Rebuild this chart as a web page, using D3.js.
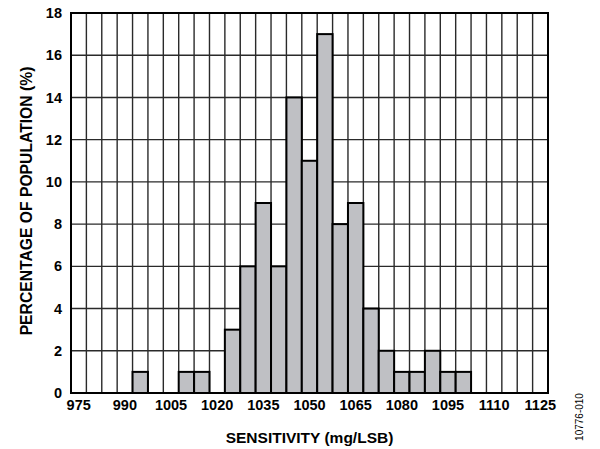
<!DOCTYPE html>
<html><head><meta charset="utf-8">
<script src="https://cdn.jsdelivr.net/npm/d3@7"></script>
<style>body{margin:0;background:#fff}svg{display:block}text{font-family:"Liberation Sans",Arial,sans-serif}</style>
</head><body>
<script>
const bins = d3.range(975, 1126, 5);
const binValues = [975,980,985,990,995,1000,1005,1010,1015,1020,1025,1030,1035,1040,1045,1050,1055,1060,1065,1070,1075,1080,1085,1090,1095,1100];
const percents = [0,0,0,0,1,0,0,1,1,0,3,6,9,6,14,11,17,8,9,4,2,1,1,2,1,1];
const xTickLabels = [975,990,1005,1020,1035,1050,1065,1080,1095,1110,1125];
const yTicks = [0,2,4,6,8,10,12,14,16,18];

const W = 600, H = 449;
const m = {l:71, r:52, t:13, b:56};
const FF = '"Liberation Sans",Arial,sans-serif';
const svg = d3.select("body").append("svg").attr("width", W).attr("height", H);
const x = d3.scaleBand().domain(bins).range([m.l, W - m.r]).padding(0);
const y = d3.scaleLinear().domain([0, 18]).range([H - m.b, m.t]);

const g = svg.append("g");
g.selectAll("line.vg").data(bins.slice(1)).join("line")
  .attr("x1", d => x(d)).attr("x2", d => x(d))
  .attr("y1", y(0)).attr("y2", y(18))
  .attr("stroke", "#2a2a2a").attr("stroke-width", 1.4);
g.selectAll("line.hg").data(yTicks.slice(1, -1)).join("line")
  .attr("x1", m.l).attr("x2", W - m.r)
  .attr("y1", d => y(d)).attr("y2", d => y(d))
  .attr("stroke", "#2a2a2a").attr("stroke-width", 1.4);

const data = binValues.map((b, i) => ({b, v: percents[i]})).filter(d => d.v > 0);
g.selectAll("rect.bar").data(data).join("rect")
  .attr("x", d => x(d.b)).attr("width", x.bandwidth())
  .attr("y", d => y(d.v)).attr("height", d => y(0) - y(d.v))
  .attr("fill", "#bfc0c4").attr("stroke", "#000").attr("stroke-width", 2);

svg.append("rect").attr("x", m.l).attr("y", m.t)
  .attr("width", W - m.r - m.l).attr("height", y(0) - m.t)
  .attr("fill", "none").attr("stroke", "#000").attr("stroke-width", 2);

const yAxis = d3.axisLeft(y).tickValues(yTicks).tickSize(0).tickPadding(9);
const ya = svg.append("g").attr("transform", `translate(${m.l},0)`).call(yAxis);
ya.select(".domain").remove();
ya.selectAll("text").attr("font-size", 14.5).attr("font-weight", "bold").attr("fill", "#000")
  .style("font-family", FF);

const xAxis = d3.axisBottom(x).tickValues(xTickLabels).tickSize(0).tickPadding(7);
const xa = svg.append("g").attr("transform", `translate(0,${y(0)})`).call(xAxis);
xa.select(".domain").remove();
xa.selectAll("text").attr("font-size", 14.5).attr("font-weight", "bold").attr("fill", "#000")
  .style("font-family", FF);

svg.append("text").attr("x", 309.5).attr("y", 443)
  .attr("text-anchor", "middle").attr("font-size", 15.5).attr("font-weight", "bold")
  .text("SENSITIVITY (mg/LSB)");
svg.append("text").attr("transform", `translate(32,201) rotate(-90)`)
  .attr("text-anchor", "middle").attr("font-size", 15.7).attr("font-weight", "bold")
  .text("PERCENTAGE OF POPULATION (%)");
svg.append("text").attr("transform", `translate(583,417) rotate(-90)`)
  .attr("text-anchor", "middle").attr("font-size", 10)
  .text("10776-010");
</script>
</body></html>
